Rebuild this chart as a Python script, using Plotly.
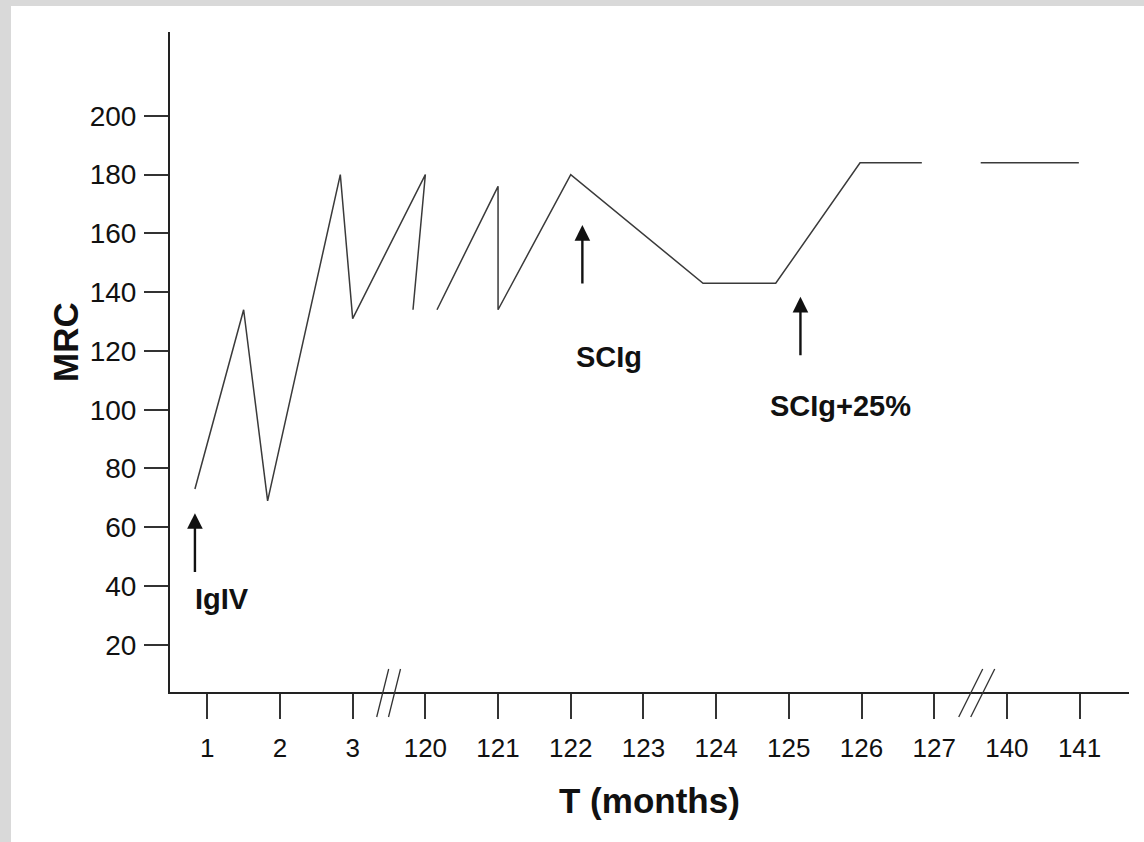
import plotly.graph_objects as go

# ---------------- data ----------------
# x axis is a broken time axis; each tick sits at an axis position 1..13
tick_pos = list(range(1, 14))
tick_labels = ["1", "2", "3", "120", "121", "122", "123", "124", "125", "126", "127", "140", "141"]
y_ticks = [20, 40, 60, 80, 100, 120, 140, 160, 180, 200]

# MRC curve, in axis positions (None = gap in the drawn line)
x_pos = [0.83, 1.50, 1.83, 2.83, 3.00, 4.00, 3.83, None,
         4.16, 5.00, 5.00, 6.00, 7.82, 8.82, 9.98, 10.83, None,
         11.64, 12.99]
mrc = [73, 134, 69, 180, 131, 180, 134, None,
       134, 176, 134, 180, 143, 143, 184, 184, None,
       184, 184]

# treatment arrows
arrow_labels = ["IgIV", "SCIg", "SCIg+25%"]
arrow_x = [0.83, 6.16, 9.16]
arrow_tip = [64.8, 162.8, 138.4]
arrow_tail = [44.3, 142.4, 118.0]
label_x = [0.80, 6.04, 8.72]
label_y = [35.6, 117.9, 101.3]

# axis breaks ("//") positions on the x axis
break_pos = [3.494, 11.585]

# ---------------- layout geometry ----------------
W, H = 1144, 842
M_L, M_R, M_T, M_B = 170, 15, 32, 150
PW = W - M_L - M_R
PH = H - M_T - M_B
x_range = [0.487, 13.68]
y_range = [3.95, 228.5]

FONT = "Liberation Sans, Arial, Helvetica, sans-serif"
INK = "#111111"

fig = go.Figure()
fig.add_trace(go.Scatter(
    x=x_pos, y=mrc, mode="lines", connectgaps=False,
    line=dict(color="#3a3a3a", width=1.5), showlegend=False, hoverinfo="skip"))

annotations = []
for lab, ax_, tip, tail, lx, ly in zip(arrow_labels, arrow_x, arrow_tip, arrow_tail, label_x, label_y):
    annotations.append(dict(
        x=ax_, y=tip, ax=ax_, ay=tail, xref="x", yref="y", axref="x", ayref="y",
        text="", showarrow=True, arrowhead=2, arrowsize=1.3, arrowwidth=2.4,
        arrowcolor=INK, standoff=0, startstandoff=0))
    annotations.append(dict(
        x=lx, y=ly, xref="x", yref="y", text="<b>%s</b>" % lab, showarrow=False,
        xanchor="left", yanchor="middle",
        font=dict(family=FONT, size=29, color=INK)))

# axis titles
annotations.append(dict(
    x=0.5, y=(692 - 800) / PH, xref="paper", yref="paper", text="<b>T (months)</b>",
    showarrow=False, xanchor="center", yanchor="middle",
    font=dict(family=FONT, size=35, color=INK)))
annotations.append(dict(
    x=(65 - M_L) / PW, y=(692 - 342) / PH, xref="paper", yref="paper", text="<b>MRC</b>",
    showarrow=False, xanchor="center", yanchor="middle", textangle=-90,
    font=dict(family=FONT, size=35, color=INK)))

shapes = []
# axis-break marks, drawn in domain units so they are not clipped
for bp, half_dx, sep in zip(break_pos, [6, 12], [11.8, 12.0]):
    cx = (bp - x_range[0]) / (x_range[1] - x_range[0])
    for off in (-sep / 2, sep / 2):
        shapes.append(dict(
            type="line", xref="x domain", yref="y domain",
            x0=cx + (off - half_dx) / PW, y0=-25 / PH,
            x1=cx + (off + half_dx) / PW, y1=23 / PH,
            line=dict(color="#333333", width=1.3)))

# grey scanned-page border (left and top strips)
shapes.append(dict(type="rect", xref="paper", yref="paper", layer="below",
                   x0=-M_L / PW, x1=(11 - M_L) / PW, y0=-M_B / PH, y1=(PH + M_T) / PH,
                   fillcolor="#d9d9d9", line=dict(width=0)))
shapes.append(dict(type="rect", xref="paper", yref="paper", layer="below",
                   x0=-M_L / PW, x1=(W - M_L) / PW, y0=(PH + M_T - 6) / PH, y1=(PH + M_T) / PH,
                   fillcolor="#d9d9d9", line=dict(width=0)))

fig.update_layout(
    width=W, height=H,
    margin=dict(l=M_L, r=M_R, t=M_T, b=M_B, pad=0),
    paper_bgcolor="white", plot_bgcolor="white",
    font=dict(family=FONT, color=INK),
    annotations=annotations, shapes=shapes,
    xaxis=dict(
        range=x_range, tickmode="array", tickvals=tick_pos, ticktext=tick_labels,
        ticks="outside", ticklen=25, tickwidth=1.5, tickcolor="#333333",
        showline=True, linecolor="#222222", linewidth=2,
        showgrid=False, zeroline=False, ticklabelstandoff=7,
        tickfont=dict(family=FONT, size=26, color=INK)),
    yaxis=dict(
        range=y_range, tickmode="array", tickvals=y_ticks,
        ticks="outside", ticklen=24, tickwidth=1.5, tickcolor="#333333",
        showline=True, linecolor="#222222", linewidth=2,
        showgrid=False, zeroline=False, ticklabelstandoff=2,
        tickfont=dict(family=FONT, size=28, color=INK)),
)

fig.write_html("out.html", config={"displayModeBar": False},
               post_script="document.body.style.margin='0';document.body.style.padding='0';")
